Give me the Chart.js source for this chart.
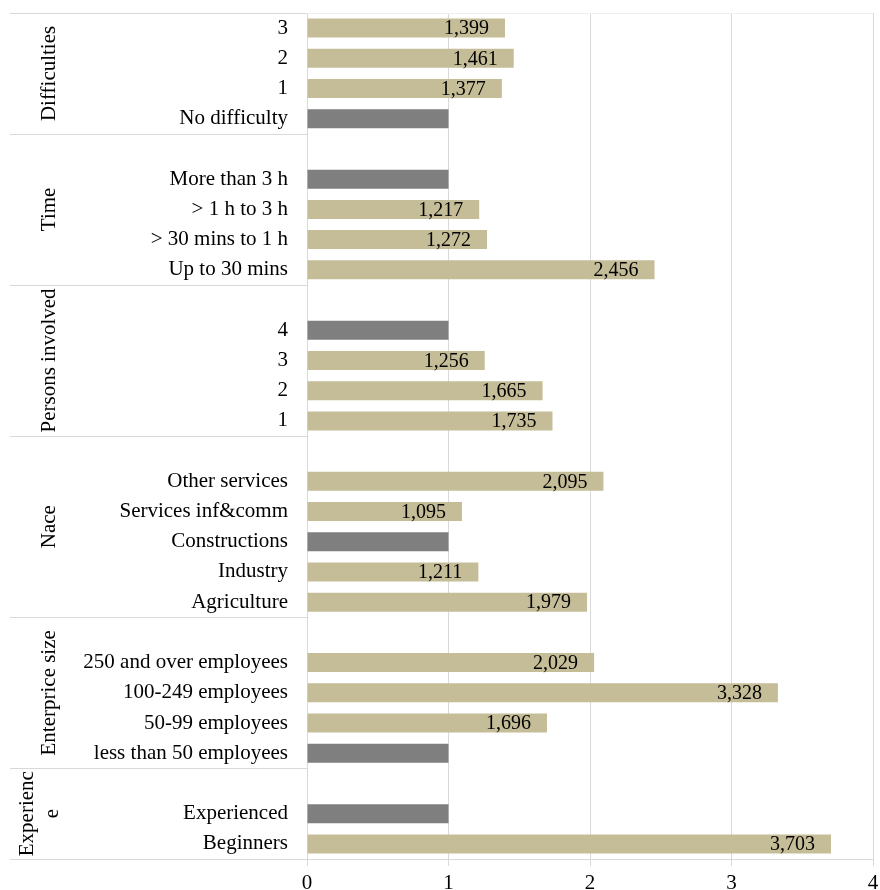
<!DOCTYPE html>
<html>
<head>
<meta charset="utf-8">
<script src="https://cdn.jsdelivr.net/npm/chart.js@4/dist/chart.umd.min.js"></script>
<style>
  html, body { margin: 0; padding: 0; background: #fff; }
  #wrap { width: 880px; height: 890px; position: relative; }
</style>
</head>
<body>
<div id="wrap"><canvas id="c"></canvas></div>
<script>
// Row labels, top to bottom; empty strings are spacer rows between groups
const categories = [
  '3', '2', '1', 'No difficulty',
  '', 'More than 3 h', '> 1 h to 3 h', '> 30 mins to 1 h', 'Up to 30 mins',
  '', '4', '3', '2', '1',
  '', 'Other services', 'Services inf&comm', 'Constructions', 'Industry', 'Agriculture',
  '', '250 and over employees', '100-249 employees', '50-99 employees', 'less than 50 employees',
  '', 'Experienced', 'Beginners'
];

// Odds ratios per row (reference category = 1)
const values = [
  1.399, 1.461, 1.377, 1,
  null, 1, 1.217, 1.272, 2.456,
  null, 1, 1.256, 1.665, 1.735,
  null, 2.095, 1.095, 1, 1.211, 1.979,
  null, 2.029, 3.328, 1.696, 1,
  null, 1, 3.703
];

// Reference categories are drawn grey and left unlabelled
const isReference = [
  false, false, false, true,
  false, true, false, false, false,
  false, true, false, false, false,
  false, false, false, true, false, false,
  false, false, false, false, true,
  false, true, false
];

// Group captions (one entry per text line) and their first/last row indices
const groupNames = [
  ['Difficulties'], ['Time'], ['Persons involved'], ['Nace'], ['Enterprice size'], ['Experienc', 'e']
];
const groupRows = [[0, 3], [4, 8], [9, 13], [14, 19], [20, 24], [25, 27]];

const xTicks = [0, 1, 2, 3, 4];

const TAN = '#C4BD97';
const GREY = '#7F7F7F';
const LINE = '#d9d9d9';
const FONT = '"Liberation Serif", "Times New Roman", serif';

const fmt = v => v.toFixed(3).replace('.', ',');

const groupPlugin = {
  id: 'groups',
  afterDraw(chart) {
    const ctx = chart.ctx;
    const area = chart.chartArea;
    const y = chart.scales.y;
    const half = (y.getPixelForValue(1) - y.getPixelForValue(0)) / 2;
    ctx.save();
    // faint top edge of the plot
    ctx.strokeStyle = '#f0f0f0';
    ctx.lineWidth = 1;
    ctx.beginPath();
    ctx.moveTo(area.left, area.top + 0.5);
    ctx.lineTo(area.right, area.top + 0.5);
    ctx.stroke();
    // group separators in the label column
    ctx.strokeStyle = LINE;
    const edges = [y.getPixelForValue(groupRows[0][0]) - half];
    groupRows.forEach(g => edges.push(y.getPixelForValue(g[1]) + half));
    edges.forEach(e => {
      ctx.beginPath();
      ctx.moveTo(10, Math.round(e) + 0.5);
      ctx.lineTo(area.left, Math.round(e) + 0.5);
      ctx.stroke();
    });
    // rotated group captions
    ctx.fillStyle = '#000';
    ctx.font = '21px ' + FONT;
    ctx.textAlign = 'center';
    ctx.textBaseline = 'middle';
    groupRows.forEach((g, i) => {
      const top = y.getPixelForValue(g[0]) - half;
      const bottom = y.getPixelForValue(g[1]) + half;
      const cy = (top + bottom) / 2;
      const lines = groupNames[i];
      const lh = 25;
      const x0 = 49 - (lines.length - 1) * 22;
      lines.forEach((t, k) => {
        ctx.save();
        ctx.translate(x0 + k * lh, cy);
        ctx.rotate(-Math.PI / 2);
        ctx.fillText(t, 0, 0);
        ctx.restore();
      });
    });
    ctx.restore();
  },
  afterDatasetsDraw(chart) {
    const ctx = chart.ctx;
    const meta = chart.getDatasetMeta(0);
    ctx.save();
    ctx.fillStyle = '#000';
    ctx.font = '20px ' + FONT;
    ctx.textAlign = 'right';
    ctx.textBaseline = 'middle';
    meta.data.forEach((bar, i) => {
      const v = values[i];
      if (v === null || isReference[i]) return;
      ctx.fillText(fmt(v), bar.x - 16, bar.y + 1);
    });
    ctx.restore();
  }
};

new Chart(document.getElementById('c'), {
  type: 'bar',
  data: {
    labels: categories,
    datasets: [{
      data: values,
      backgroundColor: values.map((v, i) => isReference[i] ? GREY : TAN),
      barPercentage: 0.63,
      categoryPercentage: 1,
      borderWidth: 0
    }]
  },
  options: {
    indexAxis: 'y',
    responsive: true,
    maintainAspectRatio: false,
    animation: false,
    layout: { padding: { top: 13, right: 7, left: 0, bottom: 0 } },
    plugins: {
      legend: { display: false },
      tooltip: { enabled: false }
    },
    scales: {
      x: {
        min: 0,
        max: 4,
        afterBuildTicks: s => { s.ticks = xTicks.map(v => ({ value: v })); },
        afterFit: s => { s.height = 31; s.paddingLeft = 0; s.paddingRight = 0; },
        grid: { color: LINE, lineWidth: 1, tickLength: 7 },
        border: { color: LINE, width: 1 },
        ticks: { color: '#000', font: { family: FONT, size: 21 }, padding: 5 }
      },
      y: {
        afterFit: s => { s.width = 307; s.paddingTop = 0; s.paddingBottom = 0; },
        grid: { display: false, drawTicks: false },
        border: { display: true, color: LINE, width: 1 },
        ticks: { color: '#000', font: { family: FONT, size: 21 }, padding: 19, autoSkip: false }
      }
    }
  },
  plugins: [groupPlugin]
});
</script>
</body>
</html>
